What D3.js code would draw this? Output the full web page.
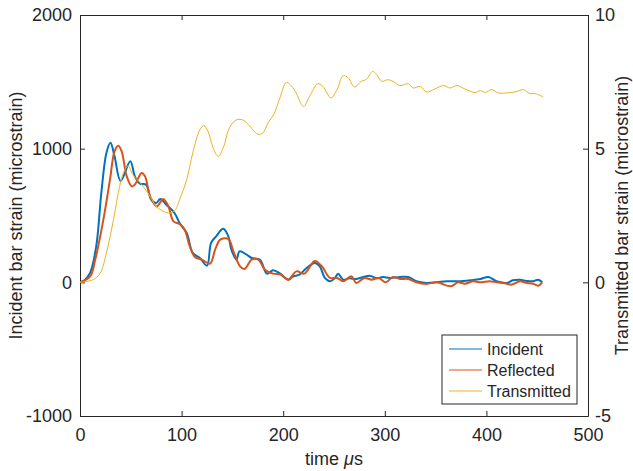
<!DOCTYPE html>
<html>
<head>
<meta charset="utf-8">
<script src="https://cdn.jsdelivr.net/npm/d3@7"></script>
<style>
  body { margin: 0; background: #fff; }
  text { font-family: "Liberation Sans", Arial, sans-serif; fill: #262626; }
</style>
</head>
<body>
<svg id="chart" width="633" height="471"></svg>
<script>
// values
const incidentT = [0,5,10,16,21,26,30,34,40,49.5,54,59,65,70,75,79,85,93,98,105,111,118,125,129,134,141,146,149,154,157,164,169,177,184,190,197,205,210,216,223,231,236,241,246,251,254,259,265,272,279,285,292,298,305,315,323,331,341,351,361,374,384,394,402,410,420,426,433,440,446,451,455];
const incident  = [0,20,72,270,670,968,1045,943,758,905,793,738,731,619,594,624,581,519,444,369,220,182,125,295,344,400,344,245,170,232,207,182,170,65,90,65,20,45,57,107,145,120,33,8,33,65,20,30,25,40,50,30,40,33,40,40,8,-5,0,8,8,15,25,40,8,-5,15,20,10,8,20,0];

const reflectedT = [0,10,15,23,29.5,34,37.7,41,46,51,54,60.6,64,69,75.5,82,87,92,98,103,108,113,120,128,133,138,146,151,157.5,162,169,175.5,182,190,198,205,213,221,231,238,246,253,259,267,272,280,287,294,301,308,315,323,331,341,351,365,372,379,387,394,403,410,417,425,433,440,446,451,455];
const reflected  = [0,45,170,469,768,980,1022,980,793,718,731,818,793,643,568,624,568,456,437,394,270,190,170,140,245,320,325,232,120,100,170,170,95,65,57,20,82,65,160,120,33,33,8,45,-5,33,20,33,0,40,25,25,0,-12,0,-30,0,-10,8,0,8,0,-5,-17,8,-5,-10,-25,0];

const transmittedT = [0,13,20,26,33,39,44,47.5,52,61,69,75,82,89,94,98,105,111,118,122,126,131,136,141,147,154,161,167,175,180,185,191,197,203,207,212,220,226,234,239,247,253,259,264,270,277,282,288,292,297,303,308,315,323,328,335,341,349,358,364,371,379,389,394,399,405,412,418,430,436,443,448,456];
const transmitted  = [0,0.1,0.35,1.1,2.35,3.59,4.21,4.35,4.03,3.65,3.22,2.84,2.66,2.6,2.72,3.09,3.84,4.84,5.71,5.86,5.65,5.03,4.71,5.03,5.77,6.08,6.06,5.85,5.54,5.59,5.96,6.3,6.93,7.48,7.39,7.14,6.58,6.96,7.43,7.33,6.9,7.21,7.73,7.65,7.31,7.52,7.6,7.89,7.77,7.52,7.58,7.52,7.36,7.43,7.27,7.33,7.12,7.23,7.36,7.27,7.36,7.23,7.1,7.17,7.1,7.21,7.08,7.08,7.14,7.21,7.06,7.06,6.93];

const xTicks = [0,100,200,300,400,500];
const yLeftTicks = [-1000,0,1000,2000];
const yRightTicks = [-5,0,5,10];
const seriesNames = ["Incident","Reflected","Transmitted"];
const seriesColors = ["#0072BD","#D95319","#EDB120"];

const svg = d3.select("#chart");
const mLeft = 80, mRight = 588, mTop = 15, mBottom = 416;

const x = d3.scaleLinear().domain([0,500]).range([mLeft,mRight]);
const yL = d3.scaleLinear().domain([-1000,2000]).range([mBottom,mTop]);
const yR = d3.scaleLinear().domain([-5,10]).range([mBottom,mTop]);

const axisColor = "#262626";
const fontSize = 18;
const plain = d => String(d); // no thousands comma, ascii minus

// axes, tick marks inside like matlab
function styleAxis(g){
    g.select(".domain").attr("stroke", axisColor);
    g.selectAll(".tick line").attr("stroke", axisColor);
    g.selectAll(".tick text").attr("font-size", fontSize).attr("fill", axisColor)
        .attr("font-family", "'Liberation Sans', Arial, sans-serif");
}

svg.append("g")
    .attr("transform", `translate(0,${mBottom})`)
    .call(d3.axisBottom(x).tickValues(xTicks).tickFormat(plain).tickSizeInner(-5).tickSizeOuter(0).tickPadding(12))
    .call(styleAxis);

svg.append("g")
    .attr("transform", `translate(0,${mTop})`)
    .call(d3.axisTop(x).tickValues(xTicks).tickSizeInner(-5).tickSizeOuter(0).tickFormat(""))
    .call(styleAxis);

svg.append("g")
    .attr("transform", `translate(${mLeft},0)`)
    .call(d3.axisLeft(yL).tickValues(yLeftTicks).tickFormat(plain).tickSizeInner(-5).tickSizeOuter(0).tickPadding(8))
    .call(styleAxis);

svg.append("g")
    .attr("transform", `translate(${mRight},0)`)
    .call(d3.axisRight(yR).tickValues(yRightTicks).tickFormat(plain).tickSizeInner(-5).tickSizeOuter(0).tickPadding(7))
    .call(styleAxis);

// lines
svg.append("clipPath").attr("id", "plot-clip")
    .append("rect").attr("x", mLeft).attr("y", mTop).attr("width", mRight-mLeft).attr("height", mBottom-mTop);

const plot = svg.append("g").attr("clip-path", "url(#plot-clip)");

function drawSeries(ts, vs, yScale, color, width){
    const pts = ts.map((t,i) => [t, vs[i]]);
    const line = d3.line()
        .x(d => x(d[0]))
        .y(d => yScale(d[1]))
        .curve(d3.curveCatmullRom.alpha(0.5));
    plot.append("path")
        .datum(pts)
        .attr("fill", "none")
        .attr("stroke", color)
        .attr("stroke-width", width)
        .attr("stroke-linejoin", "round")
        .attr("d", line);
}

drawSeries(incidentT, incident, yL, seriesColors[0], 2);
drawSeries(reflectedT, reflected, yL, seriesColors[1], 2);
drawSeries(transmittedT, transmitted, yR, seriesColors[2], 1);

// axis labels (both read bottom to top)
svg.append("text")
    .attr("transform", `translate(22,${(mTop+mBottom)/2}) rotate(-90)`)
    .attr("text-anchor", "middle")
    .attr("font-size", fontSize)
    .text("Incident bar strain (microstrain)");

svg.append("text")
    .attr("transform", `translate(628,${(mTop+mBottom)/2}) rotate(-90)`)
    .attr("text-anchor", "middle")
    .attr("font-size", fontSize)
    .text("Transmitted bar strain (microstrain)");

const xl = svg.append("text")
    .attr("x", (mLeft+mRight)/2)
    .attr("y", 465)
    .attr("text-anchor", "middle")
    .attr("font-size", fontSize);
xl.append("tspan").text("time ");
xl.append("tspan").attr("font-style", "italic").text("\u03BC");
xl.append("tspan").text("s");

// legend
const lg = svg.append("g").attr("transform", "translate(442,335)");
lg.append("rect").attr("width", 135).attr("height", 69)
    .attr("fill", "#fff").attr("stroke", axisColor).attr("stroke-width", 1);

seriesNames.forEach((name, i) => {
    const yy = 14 + i*21;
    lg.append("line")
        .attr("x1", 7).attr("x2", 40).attr("y1", yy).attr("y2", yy)
        .attr("stroke", seriesColors[i]).attr("stroke-width", 1);
    lg.append("text")
        .attr("x", 45).attr("y", yy)
        .attr("dy", "0.35em")
        .attr("font-size", 16)
        .text(name);
});
</script>
</body>
</html>
